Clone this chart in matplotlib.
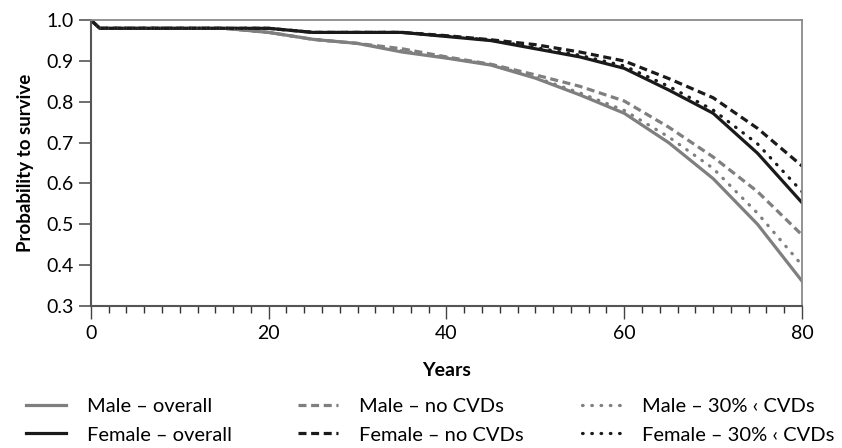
import numpy as np
import matplotlib
matplotlib.use('Agg')
import matplotlib.pyplot as plt
from matplotlib.ticker import MultipleLocator

plt.rcParams['font.family'] = ['Lato', 'DejaVu Sans']

# 数据
years = [0, 1, 5, 10, 15, 20, 25, 30, 35, 40, 45, 50, 55, 60, 65, 70, 75, 80]

male_overall = [1.0, 0.98, 0.98, 0.98, 0.98, 0.97, 0.953, 0.943, 0.922, 0.907, 0.89, 0.858, 0.817, 0.772, 0.700, 0.612, 0.500, 0.361]
male_no_cvd = [1.0, 0.98, 0.98, 0.98, 0.98, 0.97, 0.953, 0.943, 0.930, 0.910, 0.892, 0.866, 0.838, 0.802, 0.738, 0.665, 0.580, 0.474]
male_30 = [1.0, 0.98, 0.98, 0.98, 0.98, 0.97, 0.953, 0.943, 0.925, 0.908, 0.891, 0.860, 0.822, 0.779, 0.714, 0.637, 0.527, 0.400]

female_overall = [1.0, 0.98, 0.98, 0.98, 0.98, 0.98, 0.97, 0.97, 0.97, 0.96, 0.95, 0.93, 0.91, 0.882, 0.829, 0.772, 0.674, 0.553]
female_no_cvd = [1.0, 0.98, 0.98, 0.98, 0.98, 0.98, 0.97, 0.97, 0.97, 0.962, 0.952, 0.940, 0.922, 0.900, 0.857, 0.810, 0.735, 0.643]
female_30 = [1.0, 0.98, 0.98, 0.98, 0.98, 0.98, 0.97, 0.97, 0.97, 0.961, 0.951, 0.933, 0.914, 0.888, 0.838, 0.780, 0.697, 0.580]

labels = ['Male – overall', 'Female – overall',
          'Male – no CVDs', 'Female – no CVDs',
          'Male – 30% ‹ CVDs', 'Female – 30% ‹ CVDs']

grey = '#7f7f7f'
black = '#1a1a1a'
lw = 2.3
dashed = (0, (2.5, 1.45))
dotted = (0, (0.2, 2.7))

fig = plt.figure(figsize=(8.42, 4.48), dpi=100)
ax = fig.add_axes([0.108, 0.317, 0.8445, 0.638])

h1 = ax.plot(years, male_overall, color=grey, lw=lw)[0]
h2 = ax.plot(years, female_overall, color=black, lw=lw)[0]
h3 = ax.plot(years, male_no_cvd, color=grey, lw=lw, ls=dashed)[0]
h4 = ax.plot(years, female_no_cvd, color=black, lw=lw, ls=dashed)[0]
h5 = ax.plot(years, male_30, color=grey, lw=lw, ls=dotted, dash_capstyle='round')[0]
h6 = ax.plot(years, female_30, color=black, lw=lw, ls=dotted, dash_capstyle='round')[0]

ax.set_xlim(0, 80)
ax.set_ylim(0.3, 1.0)
ax.xaxis.set_major_locator(MultipleLocator(20))
ax.xaxis.set_minor_locator(MultipleLocator(2))
ax.yaxis.set_major_locator(MultipleLocator(0.1))
ax.yaxis.set_major_formatter(plt.FormatStrFormatter('%.1f'))

ax.tick_params(axis='x', which='major', length=9, width=1, color='#444444', labelsize=14, pad=5)
ax.tick_params(axis='x', which='minor', length=5, width=1, color='#333333')
ax.tick_params(axis='y', which='major', length=8.5, width=1.2, color='#555555', labelsize=14, pad=4)

for s in ['left', 'bottom']:
    ax.spines[s].set_color('#555555')
    ax.spines[s].set_linewidth(1.5)
for s in ['top', 'right']:
    ax.spines[s].set_color('#8a8a8a')
    ax.spines[s].set_linewidth(1.3)

ax.set_xlabel('Years', fontsize=14, fontweight='bold', labelpad=14)
ax.set_ylabel('Probability to survive', fontsize=13.5, fontweight='bold', labelpad=9)

# 图例: 三列, 手动定位
groups = [([h1, h2], labels[0:2], 0.012),
          ([h3, h4], labels[2:4], 0.335),
          ([h5, h6], labels[4:6], 0.672)]
for handles, labs, x0 in groups:
    leg = fig.legend(handles, labs, loc='upper left', bbox_to_anchor=(x0, 0.147),
                     frameon=False, fontsize=14.5, handlelength=2.0,
                     handletextpad=1.0, labelspacing=0.55, borderpad=0.3)

fig.savefig('out.png', dpi=100)
